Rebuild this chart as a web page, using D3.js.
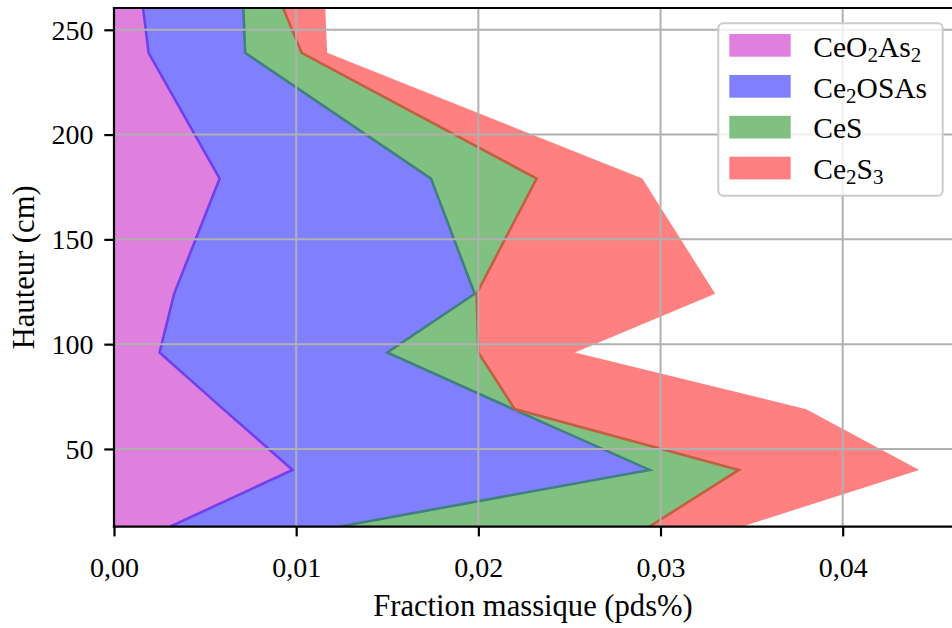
<!DOCTYPE html>
<html>
<head>
<meta charset="utf-8">
<script src="https://cdn.jsdelivr.net/npm/d3@7"></script>
<style>
  html, body { margin: 0; padding: 0; background: #ffffff; }
  svg { display: block; }
  text { font-family: "Liberation Serif", "DejaVu Serif", serif; fill: #000; }
</style>
</head>
<body>
<svg id="chart" width="952" height="628"></svg>
<script>
// ---- data (bottom to top) ----
const heights = [13, 40, 69, 96, 124, 179, 239, 260];
const seriesKeys = ["CeO2As2", "Ce2OSAs", "CeS", "Ce2S3"];
const legendLabels = ["CeO_2As_2", "Ce_2OSAs", "CeS", "Ce_2S_3"];
const CeO2As2 = [0.0031, 0.0098, 0.0060, 0.0025, 0.0033, 0.0058, 0.0019, 0.0016];
const Ce2OSAs = [0.0093, 0.0196, 0.0159, 0.0125, 0.0165, 0.0116, 0.0053, 0.0055];
const CeS     = [0.0170, 0.0049, 0.0001, 0.0050, 0.0001, 0.0058, 0.0031, 0.0022];
const Ce2S3   = [0.0051, 0.0099, 0.0160, 0.0053, 0.0131, 0.0058, 0.0014, 0.0023];
const xTicks = [0, 0.01, 0.02, 0.03, 0.04];
const yTicks = [50, 100, 150, 200, 250];
const xLabel = "Fraction massique (pds%)";
const yLabel = "Hauteur (cm)";
const colors = ["#bf00bf", "#0000ff", "#008000", "#ff0000"];

const valuesByKey = {CeO2As2, Ce2OSAs, CeS, Ce2S3};
const rows = heights.map((h, i) => {
  const r = {h};
  seriesKeys.forEach(k => r[k] = valuesByKey[k][i]);
  return r;
});

// ---- layout ----
const L = 114, R = 952, T = 8, B = 526.7;
const FS = 28;
const svg = d3.select("#chart");

const x = d3.scaleLinear().domain([0, 0.046]).range([L, R]);
const y = d3.scaleLinear().domain([12.9, 260.4]).range([B, T]);

svg.append("defs").append("clipPath").attr("id", "clip")
  .append("rect").attr("x", L).attr("y", T).attr("width", R - L).attr("height", B - T);

const stacked = d3.stack().keys(seriesKeys)(rows);

const area = d3.area()
  .y(d => y(d.data.h))
  .x0(d => x(d[0]))
  .x1(d => x(d[1]));

// colour of a half-transparent colour composited over white / another colour
const over = (top, bottom) => {
  const a = d3.rgb(top), b = d3.rgb(bottom);
  return d3.rgb((a.r + b.r) / 2, (a.g + b.g) / 2, (a.b + b.b) / 2).formatHex();
};
const fillOnWhite = colors.map(c => over(c, "#ffffff"));

const plot = svg.append("g").attr("clip-path", "url(#clip)");
plot.selectAll("path.area").data(stacked).join("path")
  .attr("class", "area")
  .attr("d", area)
  .attr("fill", (d, i) => fillOnWhite[i]);

// boundary lines: edge of the upper series drawn over the lower fill
const edge = d3.line().y(d => y(d.data.h)).x(d => x(d[0]));
plot.selectAll("path.edge").data(stacked.slice(1)).join("path")
  .attr("class", "edge")
  .attr("d", edge)
  .attr("fill", "none")
  .attr("stroke", (d, i) => over(colors[i + 1], fillOnWhite[i]))
  .attr("stroke-width", 2.6)
  .attr("stroke-linejoin", "miter");

// ---- grid (on top of fills) ----
const grid = svg.append("g").attr("clip-path", "url(#clip)");
grid.selectAll("line.gx").data(xTicks).join("line")
  .attr("x1", d => x(d)).attr("x2", d => x(d))
  .attr("y1", T).attr("y2", B)
  .attr("stroke", "#b0b0b0").attr("stroke-width", 2);
grid.selectAll("line.gy").data(yTicks).join("line")
  .attr("y1", d => y(d)).attr("y2", d => y(d))
  .attr("x1", L).attr("x2", R + 5)
  .attr("stroke", "#b0b0b0").attr("stroke-width", 2);

// ---- axes ----
const fmt = v => d3.format(".2f")(v).replace(".", ",");
const xAxis = d3.axisBottom(x).tickValues(xTicks).tickFormat(fmt).tickSize(9.7).tickPadding(12);
const yAxis = d3.axisLeft(y).tickValues(yTicks).tickFormat(d3.format("d")).tickSize(9.7).tickPadding(10);

const gx = svg.append("g").attr("transform", `translate(0,${B})`).call(xAxis);
const gy = svg.append("g").attr("transform", `translate(${L},0)`).call(yAxis);
[gx, gy].forEach(g => {
  g.select(".domain").remove();
  g.selectAll(".tick line").attr("stroke", "#000").attr("stroke-width", 2.2);
  g.selectAll(".tick text")
    .attr("font-family", "'Liberation Serif', 'DejaVu Serif', serif")
    .attr("font-size", FS).attr("fill", "#000");
});
gx.selectAll(".tick text").attr("dy", null).attr("y", 50);
gy.selectAll(".tick text").attr("dy", "0.33em").attr("x", -20.5);

// spines
svg.append("line").attr("x1", L).attr("x2", L).attr("y1", T - 1.1).attr("y2", B + 1.1)
  .attr("stroke", "#000").attr("stroke-width", 2.2);
svg.append("line").attr("x1", L - 1.1).attr("x2", R + 2).attr("y1", B).attr("y2", B)
  .attr("stroke", "#000").attr("stroke-width", 2.2);
svg.append("line").attr("x1", L - 1.1).attr("x2", R + 2).attr("y1", T).attr("y2", T)
  .attr("stroke", "#000").attr("stroke-width", 2.2);

// axis labels
svg.append("text")
  .attr("x", (L + R) / 2).attr("y", 616)
  .attr("text-anchor", "middle")
  .attr("font-size", 30.6)
  .text(xLabel);
svg.append("text")
  .attr("transform", `translate(33.5,${(T + B) / 2}) rotate(-90)`)
  .attr("text-anchor", "middle")
  .attr("font-size", 30.6)
  .text(yLabel);

// ---- legend ----
const lg = svg.append("g");
lg.append("rect")
  .attr("x", 718.3).attr("y", 23.3).attr("width", 224.4).attr("height", 172.5)
  .attr("rx", 5).attr("ry", 5)
  .attr("fill", "#fff").attr("fill-opacity", 0.8)
  .attr("stroke", "#cccccc").attr("stroke-width", 2);

const rowsY = [34, 75, 115.8, 156.7];
seriesKeys.forEach((k, i) => {
  lg.append("rect")
    .attr("x", 729.3).attr("y", rowsY[i])
    .attr("width", 61.4).attr("height", 22.7)
    .attr("fill", fillOnWhite[i]);
  const t = lg.append("text")
    .attr("x", 813.3).attr("y", rowsY[i] + 22.5)
    .attr("font-size", 29.5);
  // parse "_d" subscripts
  const parts = legendLabels[i].split(/(_\d)/).filter(s => s.length);
  let pendingDy = 0;
  parts.forEach(p => {
    if (p.startsWith("_")) {
      t.append("tspan").attr("font-size", 21).attr("dy", 5 + pendingDy).text(p.slice(1));
      pendingDy = -5;
    } else {
      const s = t.append("tspan").text(p);
      if (pendingDy) s.attr("dy", pendingDy);
      pendingDy = 0;
    }
  });
});
</script>
</body>
</html>
